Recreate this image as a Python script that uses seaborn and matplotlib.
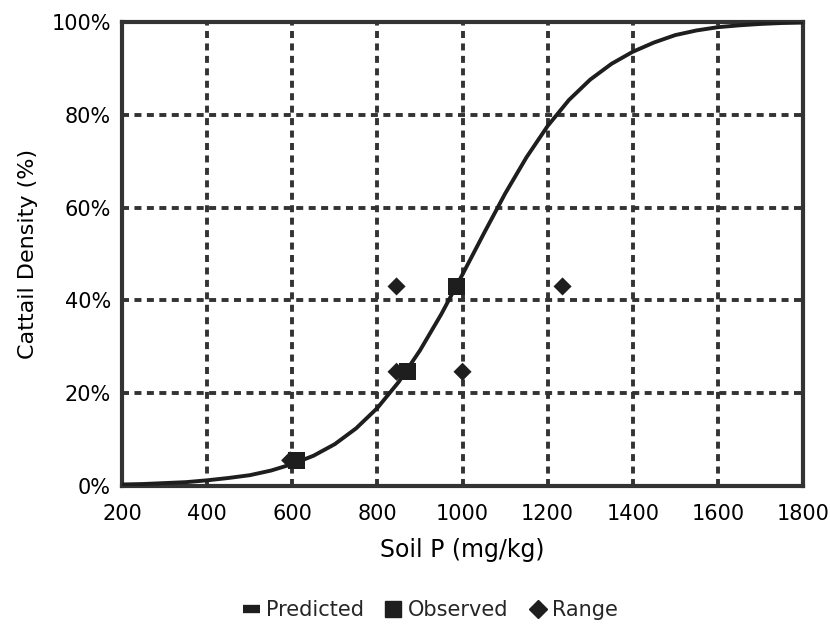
import seaborn as sns
import matplotlib.pyplot as plt
import pandas as pd
from matplotlib.ticker import PercentFormatter
from matplotlib.lines import Line2D

# predicted curve (soil P, density %)
pred_p = [200, 250, 300, 350, 400, 450, 500, 550, 600, 650, 700, 750, 800, 850,
          900, 950, 1000, 1050, 1100, 1150, 1200, 1250, 1300, 1350, 1400, 1450,
          1500, 1550, 1600, 1650, 1700, 1750, 1800]
pred_density = [0.3, 0.4, 0.6, 0.8, 1.2, 1.7, 2.3, 3.3, 4.7, 6.5, 9.0, 12.4, 16.8, 22.4,
                29.2, 37.0, 45.6, 54.4, 63.0, 70.8, 77.6, 83.2, 87.6, 91.0, 93.6, 95.6,
                97.2, 98.2, 98.9, 99.3, 99.6, 99.8, 99.9]

obs_p = [610, 870, 985]
obs_density = [5.5, 24.6, 43.0]

range_p = [595, 845, 1000, 845, 1235]
range_density = [5.5, 24.6, 24.6, 43.0, 43.0]

pred_df = pd.DataFrame({"p": pred_p, "density": pred_density})
obs_df = pd.DataFrame({"p": obs_p, "density": obs_density})
range_df = pd.DataFrame({"p": range_p, "density": range_density})

sns.set_theme(style="white")
plt.rcParams["font.family"] = ["DejaVu Sans"]

fig = plt.figure(figsize=(8.3, 6.31), dpi=100)
ax = fig.add_axes([0.147, 0.23, 0.8205, 0.735])

dark = "#333333"
ink = "#1e1e1e"
sns.lineplot(data=pred_df, x="p", y="density", ax=ax, color=ink, lw=2.8, zorder=4)
sns.scatterplot(data=range_df, x="p", y="density", ax=ax, marker="D", s=85,
                color=ink, edgecolor="none", zorder=5)
sns.scatterplot(data=obs_df, x="p", y="density", ax=ax, marker="s", s=150,
                color=ink, edgecolor="none", zorder=6)

ax.set_xlim(200, 1800)
ax.set_ylim(0, 100)
ax.set_xticks(range(200, 1801, 200))
ax.set_yticks(range(0, 101, 20))
ax.yaxis.set_major_formatter(PercentFormatter(decimals=0))
ax.grid(True, color=dark, linestyle=(0, (1.8, 1.4)), lw=2.8)
ax.set_axisbelow(True)
for s in ax.spines.values():
    s.set_color(dark)
    s.set_linewidth(3)
ax.tick_params(length=0, labelsize=15, colors="black")
ax.tick_params(axis="x", pad=13)
ax.tick_params(axis="y", pad=8)
ax.set_xlabel("Soil P (mg/kg)", fontsize=17, labelpad=10, color="black")
ax.set_ylabel("Cattail Density (%)", fontsize=16, labelpad=10, color="black")

handles = [
    Line2D([], [], color=ink, lw=6, solid_capstyle="butt"),
    Line2D([], [], color=ink, marker="s", ls="none", ms=12),
    Line2D([], [], color=ink, marker="D", ls="none", ms=9),
]
fig.legend(handles, ["Predicted", "Observed", "Range"], loc="center",
           bbox_to_anchor=(0.519, 0.033), ncol=3, frameon=False, fontsize=15,
           handlelength=0.8, handletextpad=0.3, columnspacing=1.0)

fig.savefig("out.png", dpi=100)
